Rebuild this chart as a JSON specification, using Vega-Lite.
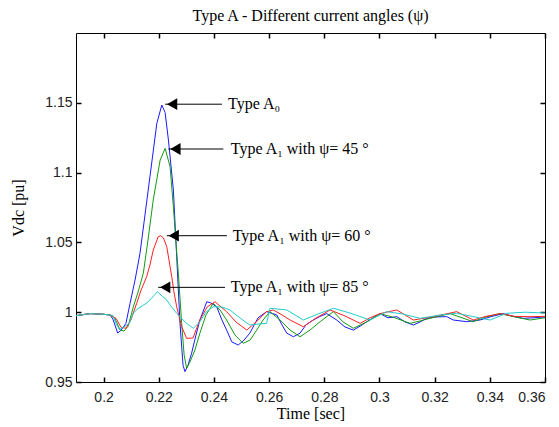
{
  "$schema": "https://vega.github.io/schema/vega-lite/v6.json",
  "width": 469,
  "height": 349,
  "autosize": {"type": "none"},
  "padding": {"left": 76, "top": 33, "right": 14, "bottom": 45},
  "background": "white",
  "config": {
    "view": {"stroke": "black", "strokeWidth": 1},
    "axis": {"labelFont": "Liberation Sans", "labelFontSize": 14, "labelColor": "#222222", "titleFont": "Liberation Serif", "titleFontSize": 16, "titleFontWeight": "normal", "titleColor": "black", "grid": false, "domain": false}
  },
  "title": {"text": "Type A - Different current angles (ψ)", "font": "Liberation Serif", "fontSize": 16, "fontWeight": "normal", "color": "black", "anchor": "middle", "offset": 8},
  "datasets": {
    "curves": [
      {"t":0.19,"v":0.9975,"s":"A0"},{"t":0.1951,"v":0.999,"s":"A0"},{"t":0.2,"v":0.9985,"s":"A0"},{"t":0.2023,"v":0.998,"s":"A0"},{"t":0.2034,"v":0.995,"s":"A0"},{"t":0.2051,"v":0.9851,"s":"A0"},{"t":0.2063,"v":0.987,"s":"A0"},{"t":0.2081,"v":0.992,"s":"A0"},{"t":0.2096,"v":1.0064,"s":"A0"},{"t":0.2114,"v":1.023,"s":"A0"},{"t":0.2132,"v":1.0422,"s":"A0"},{"t":0.215,"v":1.0696,"s":"A0"},{"t":0.2168,"v":1.097,"s":"A0"},{"t":0.2193,"v":1.1353,"s":"A0"},{"t":0.2211,"v":1.1484,"s":"A0"},{"t":0.2223,"v":1.143,"s":"A0"},{"t":0.2235,"v":1.1234,"s":"A0"},{"t":0.2253,"v":1.0875,"s":"A0"},{"t":0.2265,"v":1.0398,"s":"A0"},{"t":0.2277,"v":0.992,"s":"A0"},{"t":0.2288,"v":0.962,"s":"A0"},{"t":0.2295,"v":0.9574,"s":"A0"},{"t":0.2306,"v":0.962,"s":"A0"},{"t":0.2319,"v":0.9706,"s":"A0"},{"t":0.2335,"v":0.9837,"s":"A0"},{"t":0.2349,"v":0.9944,"s":"A0"},{"t":0.2374,"v":1.0075,"s":"A0"},{"t":0.2389,"v":1.0066,"s":"A0"},{"t":0.241,"v":1.0039,"s":"A0"},{"t":0.2429,"v":0.9944,"s":"A0"},{"t":0.2446,"v":0.9872,"s":"A0"},{"t":0.2465,"v":0.9787,"s":"A0"},{"t":0.2488,"v":0.9765,"s":"A0"},{"t":0.2509,"v":0.98,"s":"A0"},{"t":0.253,"v":0.985,"s":"A0"},{"t":0.256,"v":0.996,"s":"A0"},{"t":0.2591,"v":1.0004,"s":"A0"},{"t":0.2628,"v":0.998,"s":"A0"},{"t":0.2647,"v":0.9908,"s":"A0"},{"t":0.2664,"v":0.985,"s":"A0"},{"t":0.2688,"v":0.9824,"s":"A0"},{"t":0.2712,"v":0.985,"s":"A0"},{"t":0.2734,"v":0.991,"s":"A0"},{"t":0.276,"v":0.9944,"s":"A0"},{"t":0.2785,"v":0.997,"s":"A0"},{"t":0.2809,"v":0.999,"s":"A0"},{"t":0.2845,"v":0.9944,"s":"A0"},{"t":0.2875,"v":0.9894,"s":"A0"},{"t":0.2905,"v":0.9872,"s":"A0"},{"t":0.293,"v":0.99,"s":"A0"},{"t":0.2954,"v":0.9932,"s":"A0"},{"t":0.3002,"v":0.999,"s":"A0"},{"t":0.3031,"v":0.996,"s":"A0"},{"t":0.3063,"v":0.9968,"s":"A0"},{"t":0.3093,"v":0.993,"s":"A0"},{"t":0.3123,"v":0.9908,"s":"A0"},{"t":0.3147,"v":0.993,"s":"A0"},{"t":0.3171,"v":0.9956,"s":"A0"},{"t":0.3205,"v":0.9966,"s":"A0"},{"t":0.3244,"v":0.9968,"s":"A0"},{"t":0.3268,"v":0.9944,"s":"A0"},{"t":0.3316,"v":0.9932,"s":"A0"},{"t":0.3364,"v":0.9944,"s":"A0"},{"t":0.3408,"v":0.997,"s":"A0"},{"t":0.3449,"v":0.999,"s":"A0"},{"t":0.3484,"v":0.997,"s":"A0"},{"t":0.3521,"v":0.9956,"s":"A0"},{"t":0.3557,"v":0.996,"s":"A0"},{"t":0.36,"v":0.9966,"s":"A0"},

      {"t":0.19,"v":0.9975,"s":"45"},{"t":0.1951,"v":0.999,"s":"45"},{"t":0.2,"v":0.9985,"s":"45"},{"t":0.2023,"v":0.998,"s":"45"},{"t":0.2041,"v":0.9956,"s":"45"},{"t":0.206,"v":0.9872,"s":"45"},{"t":0.2074,"v":0.9865,"s":"45"},{"t":0.2089,"v":0.99,"s":"45"},{"t":0.2108,"v":1.0039,"s":"45"},{"t":0.2125,"v":1.0145,"s":"45"},{"t":0.2144,"v":1.0279,"s":"45"},{"t":0.2161,"v":1.0517,"s":"45"},{"t":0.218,"v":1.0804,"s":"45"},{"t":0.2205,"v":1.109,"s":"45"},{"t":0.2223,"v":1.1174,"s":"45"},{"t":0.2241,"v":1.1042,"s":"45"},{"t":0.2253,"v":1.0756,"s":"45"},{"t":0.2263,"v":1.0481,"s":"45"},{"t":0.2271,"v":1.0279,"s":"45"},{"t":0.2283,"v":0.992,"s":"45"},{"t":0.2292,"v":0.9693,"s":"45"},{"t":0.2301,"v":0.9598,"s":"45"},{"t":0.2313,"v":0.9643,"s":"45"},{"t":0.2331,"v":0.9729,"s":"45"},{"t":0.2349,"v":0.9849,"s":"45"},{"t":0.2371,"v":0.998,"s":"45"},{"t":0.2398,"v":1.0064,"s":"45"},{"t":0.2422,"v":1.0016,"s":"45"},{"t":0.2446,"v":0.9944,"s":"45"},{"t":0.2476,"v":0.9837,"s":"45"},{"t":0.2506,"v":0.9777,"s":"45"},{"t":0.2531,"v":0.98,"s":"45"},{"t":0.2555,"v":0.9872,"s":"45"},{"t":0.2578,"v":0.9944,"s":"45"},{"t":0.2603,"v":1.0004,"s":"45"},{"t":0.264,"v":0.9944,"s":"45"},{"t":0.2676,"v":0.9872,"s":"45"},{"t":0.2712,"v":0.9824,"s":"45"},{"t":0.2748,"v":0.9872,"s":"45"},{"t":0.2785,"v":0.9932,"s":"45"},{"t":0.2833,"v":1.0004,"s":"45"},{"t":0.2868,"v":0.993,"s":"45"},{"t":0.2905,"v":0.9885,"s":"45"},{"t":0.2954,"v":0.993,"s":"45"},{"t":0.3002,"v":0.999,"s":"45"},{"t":0.3056,"v":0.996,"s":"45"},{"t":0.3111,"v":0.992,"s":"45"},{"t":0.3147,"v":0.9937,"s":"45"},{"t":0.3183,"v":0.9956,"s":"45"},{"t":0.3256,"v":0.999,"s":"45"},{"t":0.3299,"v":0.996,"s":"45"},{"t":0.334,"v":0.9932,"s":"45"},{"t":0.3386,"v":0.9966,"s":"45"},{"t":0.3437,"v":0.999,"s":"45"},{"t":0.3491,"v":0.9966,"s":"45"},{"t":0.3546,"v":0.9944,"s":"45"},{"t":0.36,"v":0.996,"s":"45"},

      {"t":0.19,"v":0.9975,"s":"60"},{"t":0.1951,"v":0.999,"s":"60"},{"t":0.2,"v":0.9985,"s":"60"},{"t":0.2023,"v":0.998,"s":"60"},{"t":0.2045,"v":0.9956,"s":"60"},{"t":0.2063,"v":0.9892,"s":"60"},{"t":0.2081,"v":0.9885,"s":"60"},{"t":0.2099,"v":0.9944,"s":"60"},{"t":0.212,"v":1.0064,"s":"60"},{"t":0.2136,"v":1.0159,"s":"60"},{"t":0.2156,"v":1.0254,"s":"60"},{"t":0.2168,"v":1.0338,"s":"60"},{"t":0.218,"v":1.0445,"s":"60"},{"t":0.2198,"v":1.0541,"s":"60"},{"t":0.2207,"v":1.0548,"s":"60"},{"t":0.2217,"v":1.0532,"s":"60"},{"t":0.2229,"v":1.0469,"s":"60"},{"t":0.2237,"v":1.0374,"s":"60"},{"t":0.2247,"v":1.0254,"s":"60"},{"t":0.2255,"v":1.0145,"s":"60"},{"t":0.2265,"v":1.0039,"s":"60"},{"t":0.2283,"v":0.9896,"s":"60"},{"t":0.2301,"v":0.9813,"s":"60"},{"t":0.2324,"v":0.9815,"s":"60"},{"t":0.2349,"v":0.9944,"s":"60"},{"t":0.2375,"v":1.0037,"s":"60"},{"t":0.2404,"v":1.0075,"s":"60"},{"t":0.2422,"v":1.0044,"s":"60"},{"t":0.2446,"v":1.0004,"s":"60"},{"t":0.248,"v":0.993,"s":"60"},{"t":0.2519,"v":0.9872,"s":"60"},{"t":0.2553,"v":0.993,"s":"60"},{"t":0.2591,"v":1.0004,"s":"60"},{"t":0.2615,"v":1.0016,"s":"60"},{"t":0.2647,"v":0.998,"s":"60"},{"t":0.2676,"v":0.9944,"s":"60"},{"t":0.2724,"v":0.9896,"s":"60"},{"t":0.277,"v":0.9958,"s":"60"},{"t":0.2821,"v":1.0016,"s":"60"},{"t":0.2875,"v":0.9973,"s":"60"},{"t":0.293,"v":0.992,"s":"60"},{"t":0.2966,"v":0.996,"s":"60"},{"t":0.3002,"v":0.999,"s":"60"},{"t":0.3063,"v":1.0016,"s":"60"},{"t":0.3123,"v":0.9944,"s":"60"},{"t":0.3195,"v":0.9968,"s":"60"},{"t":0.328,"v":1.0004,"s":"60"},{"t":0.334,"v":0.9944,"s":"60"},{"t":0.3386,"v":0.997,"s":"60"},{"t":0.3437,"v":0.999,"s":"60"},{"t":0.3491,"v":0.997,"s":"60"},{"t":0.3546,"v":0.9968,"s":"60"},{"t":0.36,"v":0.997,"s":"60"},

      {"t":0.19,"v":0.9975,"s":"85"},{"t":0.1951,"v":0.999,"s":"85"},{"t":0.2,"v":0.9985,"s":"85"},{"t":0.2023,"v":0.998,"s":"85"},{"t":0.2033,"v":0.9978,"s":"85"},{"t":0.2045,"v":0.992,"s":"85"},{"t":0.2057,"v":0.9877,"s":"85"},{"t":0.2074,"v":0.9894,"s":"85"},{"t":0.2093,"v":0.992,"s":"85"},{"t":0.2108,"v":0.9994,"s":"85"},{"t":0.2125,"v":1.0026,"s":"85"},{"t":0.2156,"v":1.0066,"s":"85"},{"t":0.2175,"v":1.0102,"s":"85"},{"t":0.2195,"v":1.0147,"s":"85"},{"t":0.2212,"v":1.0116,"s":"85"},{"t":0.2229,"v":1.0087,"s":"85"},{"t":0.2244,"v":1.0044,"s":"85"},{"t":0.2265,"v":0.9992,"s":"85"},{"t":0.2281,"v":0.9958,"s":"85"},{"t":0.2301,"v":0.992,"s":"85"},{"t":0.2325,"v":0.9885,"s":"85"},{"t":0.2349,"v":0.993,"s":"85"},{"t":0.2371,"v":1.0001,"s":"85"},{"t":0.2398,"v":1.0039,"s":"85"},{"t":0.2429,"v":1.0037,"s":"85"},{"t":0.2458,"v":1.0016,"s":"85"},{"t":0.2495,"v":0.9958,"s":"85"},{"t":0.253,"v":0.9908,"s":"85"},{"t":0.256,"v":0.9915,"s":"85"},{"t":0.2591,"v":0.992,"s":"85"},{"t":0.2603,"v":1.0028,"s":"85"},{"t":0.2664,"v":1.0016,"s":"85"},{"t":0.2724,"v":0.9944,"s":"85"},{"t":0.2777,"v":0.9987,"s":"85"},{"t":0.2833,"v":1.0028,"s":"85"},{"t":0.2893,"v":0.9994,"s":"85"},{"t":0.2966,"v":0.9944,"s":"85"},{"t":0.3026,"v":1.0004,"s":"85"},{"t":0.3085,"v":0.9987,"s":"85"},{"t":0.3147,"v":0.9956,"s":"85"},{"t":0.322,"v":0.998,"s":"85"},{"t":0.328,"v":0.9992,"s":"85"},{"t":0.3336,"v":0.997,"s":"85"},{"t":0.3401,"v":0.9944,"s":"85"},{"t":0.3461,"v":0.9992,"s":"85"},{"t":0.3528,"v":1.0,"s":"85"},{"t":0.36,"v":0.9994,"s":"85"}
    ],
    "notes": [
      {"label": "Type A₀", "tip": 0.2223, "tail": 0.2429, "tx": 0.2451, "y": 1.149},
      {"label": "Type A₁ with ψ= 45 °", "tip": 0.2235, "tail": 0.2434, "tx": 0.2461, "y": 1.1169},
      {"label": "Type A₁ with ψ= 60 °", "tip": 0.2229, "tail": 0.2447, "tx": 0.2468, "y": 1.0548},
      {"label": "Type A₁ with ψ= 85 °", "tip": 0.2198, "tail": 0.244, "tx": 0.2461, "y": 1.0178}
    ]
  },
  "layer": [
    {
      "data": {"name": "curves"},
      "mark": {"type": "line", "strokeWidth": 1, "clip": true},
      "encoding": {
        "x": {"field": "t", "type": "quantitative", "scale": {"domain": [0.19, 0.36], "nice": false, "zero": false},
              "axis": {"orient": "bottom", "ticks": true, "tickColor": "#000000", "tickWidth": 1.5, "tickSize": -5, "values": [0.2,0.22,0.24,0.26,0.28,0.3,0.32,0.34,0.36], "format": "~g", "title": "Time [sec]", "labelPadding": 13, "titlePadding": 1}},
        "y": {"field": "v", "type": "quantitative", "scale": {"domain": [0.95, 1.2], "nice": false, "zero": false},
              "axis": {"orient": "left", "ticks": true, "tickColor": "#000000", "tickWidth": 1.5, "tickSize": -5, "values": [0.95,1,1.05,1.1,1.15], "format": "~g", "title": "Vdc [pu]", "labelPadding": 9, "titlePadding": 18}},
        "color": {"field": "s", "type": "nominal", "legend": null,
                  "scale": {"domain": ["A0","45","60","85"], "range": ["#1a1aff","#139a13","#ff2020","#22cccc"]}},
        "order": {"field": "t", "type": "quantitative"}
      }
    },
    {
      "data": {"name": "notes"},
      "mark": {"type": "rule", "color": "black", "strokeWidth": 1},
      "encoding": {
        "x": {"field": "tip", "type": "quantitative", "axis": {"orient": "top", "ticks": true, "tickColor": "#000000", "tickWidth": 1.5, "tickSize": -5, "values": [0.2,0.22,0.24,0.26,0.28,0.3,0.32,0.34,0.36], "labels": false, "title": null}},
        "x2": {"field": "tail"},
        "y": {"field": "y", "type": "quantitative", "axis": {"orient": "right", "ticks": true, "tickColor": "#000000", "tickWidth": 1.5, "tickSize": -5, "values": [0.95,1,1.05,1.1,1.15], "labels": false, "title": null}}
      }
    },
    {
      "data": {"name": "notes"},
      "mark": {"type": "point", "shape": "triangle-left", "filled": true, "color": "black", "opacity": 1, "size": 140, "xOffset": 7},
      "encoding": {
        "x": {"field": "tip", "type": "quantitative", "axis": null},
        "y": {"field": "y", "type": "quantitative", "axis": null}
      }
    },
    {
      "data": {"name": "notes"},
      "mark": {"type": "text", "align": "left", "baseline": "middle", "font": "Liberation Serif", "fontSize": 16, "color": "black"},
      "encoding": {
        "x": {"field": "tx", "type": "quantitative", "axis": null},
        "y": {"field": "y", "type": "quantitative", "axis": null},
        "text": {"field": "label"}
      }
    }
  ],
  "resolve": {"axis": {"x": "independent", "y": "independent"}}
}
